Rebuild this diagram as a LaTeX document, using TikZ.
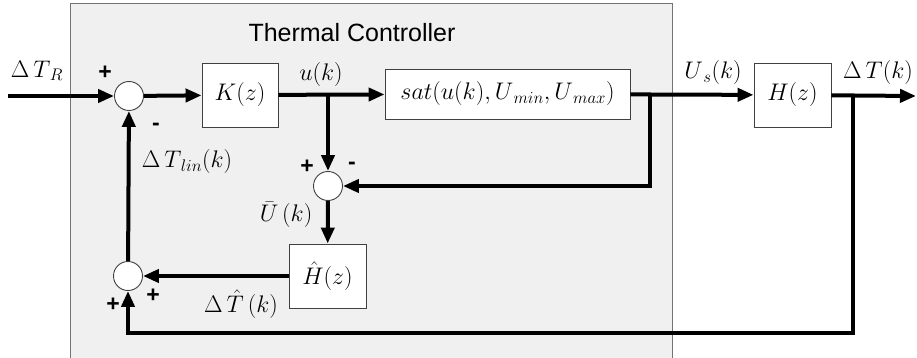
\RequirePackage{fix-cm}
\documentclass[tikz,border=0pt]{standalone}
\usepackage{fontspec}
\newfontfamily\headfont{Liberation Sans}
\usetikzlibrary{arrows.meta}
\begin{document}
\begin{tikzpicture}[x=1pt,y=-1pt,
  sig/.style={line width=4pt,line join=miter},
  flow/.style={sig,-{Triangle[length=16pt,width=13pt]}},
  blk/.style={draw=black!75,line width=0.9pt,fill=white,inner sep=0pt},
  sumj/.style={circle,draw=black!75,line width=0.9pt,fill=white,minimum size=29pt,inner sep=0pt},
  lbl/.style={font=\fontsize{24}{28}\selectfont,inner sep=0pt},
  sgn/.style={font=\headfont\bfseries\fontsize{23}{27}\selectfont,inner sep=0pt}]
\useasboundingbox (0,0) rectangle (917,358);

% controller enclosure
\draw[fill=black!6,draw=black!55,line width=0.9pt] (70,3) rectangle (672,370);
\node[font=\headfont\fontsize{25}{30}\selectfont] (title) at (352,33) {Thermal Controller};

% blocks and summing junctions
\node[sumj] (s1) at (129,96) {};
\node[blk,minimum width=76pt,minimum height=64pt,lbl] (K) at (240,95) {$K(z)$};
\node[blk,minimum width=245pt,minimum height=50pt,lbl] (sat) at (507.5,94) {$sat\bigl(u(k),U_{\,min},U_{\,max}\bigr)$};
\node[blk,minimum width=77pt,minimum height=64pt,lbl] (H) at (792.5,95) {$H(z)$};
\node[sumj] (s2) at (328,186) {};
\node[blk,minimum width=77pt,minimum height=64pt,lbl] (Hh) at (327.5,276) {$\hat{H}(z)$};
\node[sumj] (s3) at (128,276) {};

% branch points and free ends
\coordinate (in) at (8,96);
\coordinate (bu) at (328,96);
\coordinate (bs) at (650,96);
\coordinate (bo) at (853,96);
\coordinate (out) at (916,96);
\coordinate (bc) at (853,333);

% signal paths
\draw[flow] (in) -- (s1);
\draw[flow] (s1) -- (K);
\draw[flow] (K) -- (sat);
\draw[flow] (bu) -- (s2);
\draw[flow] (sat) -- (H);
\draw[flow] (bs) |- (s2);
\draw[flow] (H) -- (out);
\draw[flow] (s2) -- (Hh);
\draw[flow] (Hh) -- (s3);
\draw[flow] (s3) -- (s1);
\draw[flow] (bo) -- (bc) -| (s3);

% signal labels
\node[lbl] (lr) at (37,71) {$\Delta\,T_{\,R}$};
\node[lbl] (lu) at (321,75) {$u(k)$};
\node[lbl] (llin) at (187,162) {$\Delta\,T_{\,lin}(k)$};
\node[lbl] (lub) at (286,215) {$\bar{U}\,(k)$};
\node[lbl] (lth) at (241,304) {$\Delta\,\hat{T}\,(k)$};
\node[lbl] (lus) at (713,73) {$U_{\,s}(k)$};
\node[lbl] (lt) at (878,73) {$\Delta\,T(k)$};

% junction signs
\node[sgn] (p1) at (105,73) {+};
\node[sgn] (m1) at (156,127) {-};
\node[sgn] (p2) at (307,167) {+};
\node[sgn] (m2) at (352,166) {-};
\node[sgn] (p3) at (153,296) {+};
\node[sgn] (p4) at (113,305) {+};
\end{tikzpicture}
\end{document}
